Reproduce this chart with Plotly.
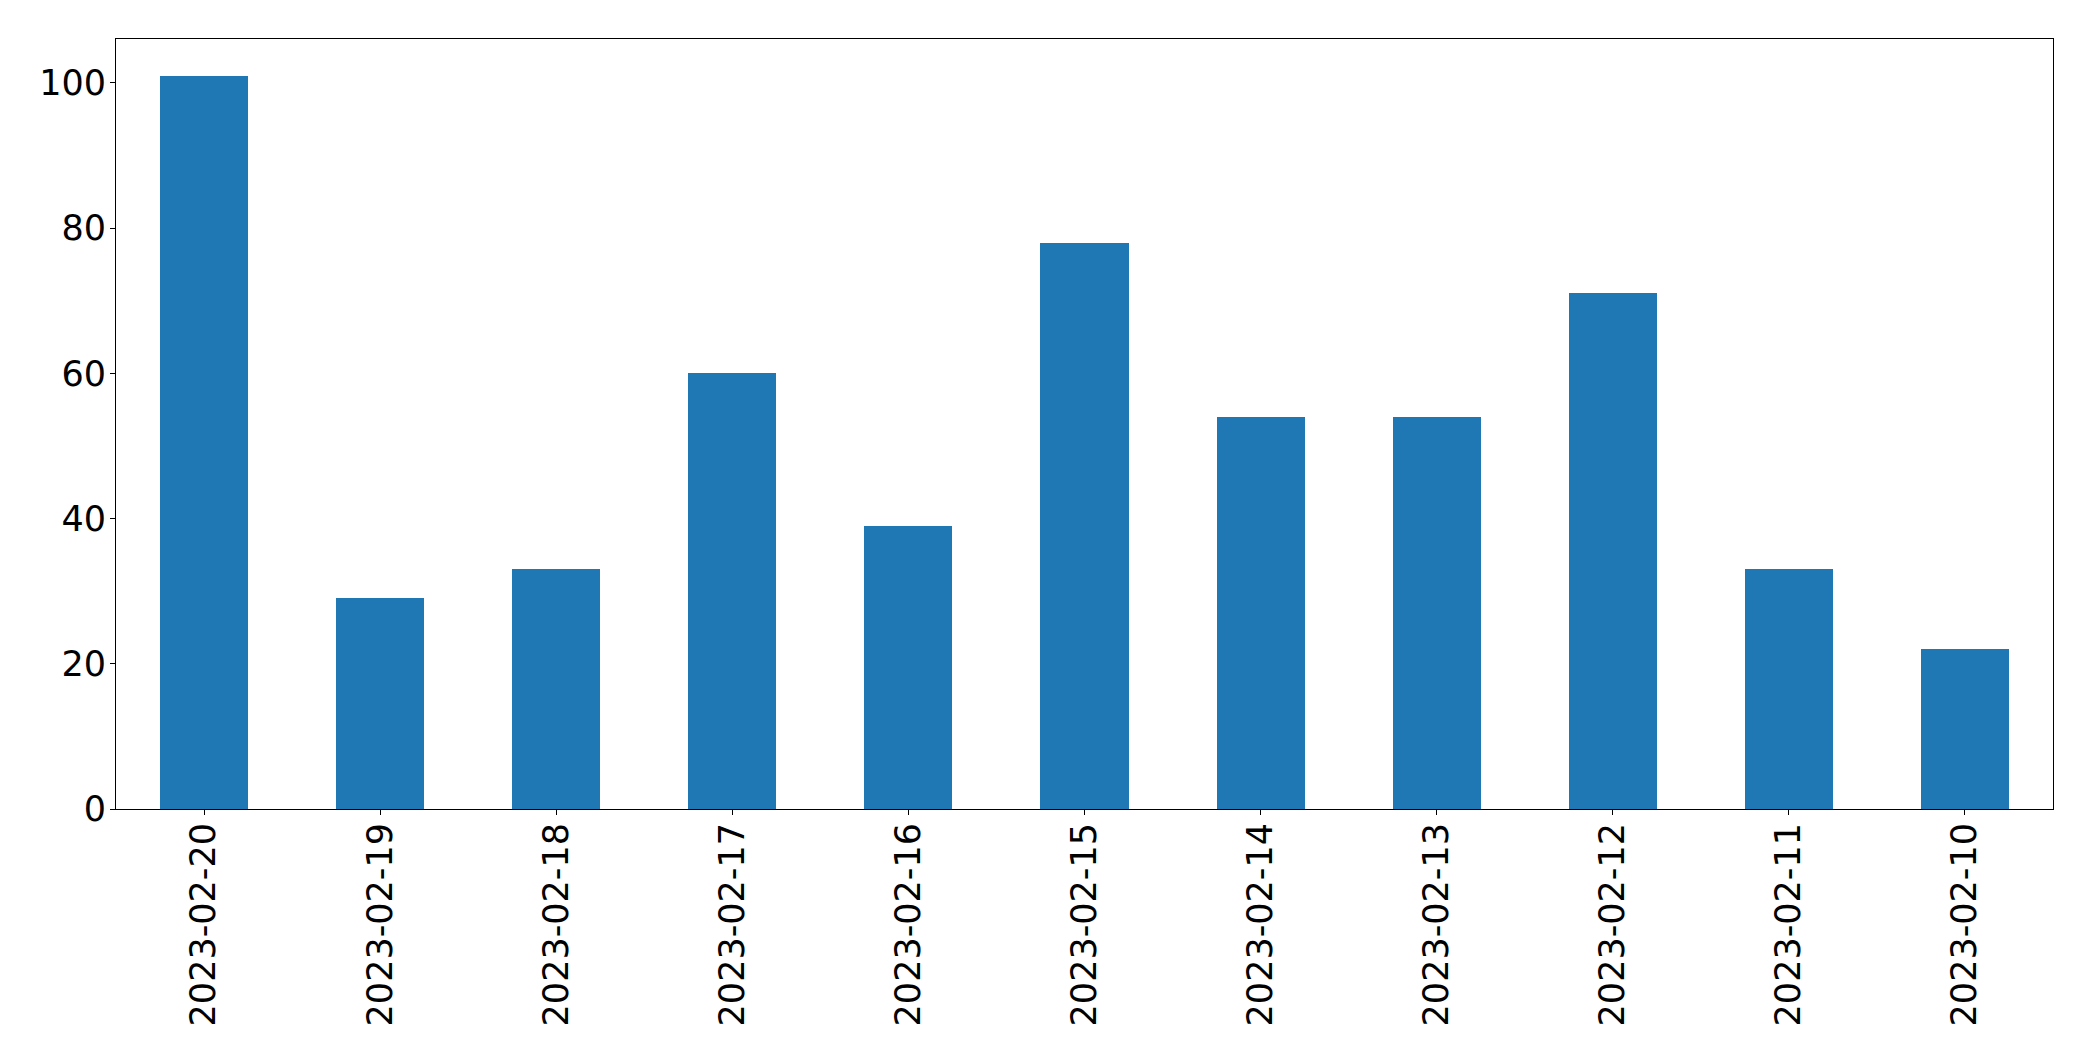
import plotly.graph_objects as go

dates = ["2023-02-20", "2023-02-19", "2023-02-18", "2023-02-17", "2023-02-16",
         "2023-02-15", "2023-02-14", "2023-02-13", "2023-02-12", "2023-02-11", "2023-02-10"]
counts = [101, 29, 33, 60, 39, 78, 54, 54, 71, 33, 22]
y_ticks = [0, 20, 40, 60, 80, 100]

fig = go.Figure(go.Bar(x=dates, y=counts, marker_color="#1f77b4", width=0.5,
                       marker_line_width=0))

fig.update_layout(
    width=2077, height=1045,
    margin=dict(l=108, r=32, t=31, b=244, autoexpand=False),
    plot_bgcolor="white", paper_bgcolor="white",
    font=dict(family="DejaVu Sans", size=35, color="black"),
    showlegend=False,
    bargap=0,
)
fig.update_xaxes(
    type="category", range=[-0.5, len(dates) - 0.5],
    tickangle=-90, ticks="outside", ticklen=5, tickwidth=1, tickcolor="black",
    showline=True, linecolor="black", linewidth=1, mirror=True,
    showgrid=False, zeroline=False, ticklabelstandoff=-6,
    tickfont=dict(size=35),
)
fig.update_yaxes(
    range=[0, 106.05], tickvals=y_ticks, ticktext=[str(v) for v in y_ticks],
    ticks="outside", ticklen=5, tickwidth=1, tickcolor="black",
    showline=True, linecolor="black", linewidth=1, mirror=True,
    showgrid=False, zeroline=False, ticklabelstandoff=-3,
    tickfont=dict(size=35),
)

fig.write_html("out.html")
